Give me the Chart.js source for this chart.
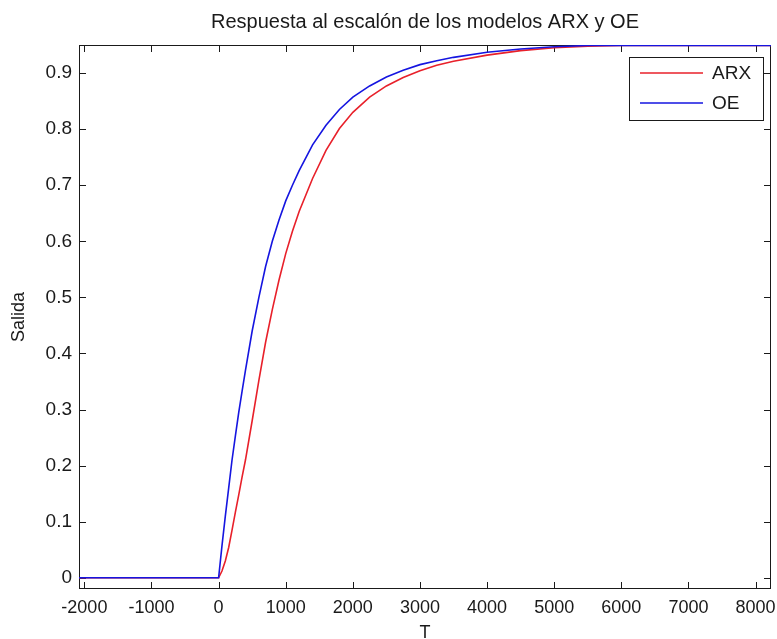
<!DOCTYPE html>
<html>
<head>
<meta charset="utf-8">
<title>Respuesta al escalón</title>
<script src="https://cdn.jsdelivr.net/npm/chart.js@4/dist/chart.umd.min.js"></script>
<style>
    html, body { margin: 0; padding: 0; background: #fff; }
    #wrap { width: 777px; height: 639px; }
</style>
</head>
<body>
<div id="wrap"><canvas id="grafica" width="777" height="639"></canvas></div>
<script>
// Datos (T y salida de cada modelo)
const tiempo = [-2080, 0, 50, 100, 150, 200, 250, 300, 350, 400, 500, 600, 700, 800, 900, 1000, 1100, 1200, 1400, 1600, 1800, 2000, 2250, 2500, 2750, 3000, 3250, 3500, 4000, 4500, 5000, 5500, 6000, 8230];
const salidaARX = [0, 0, 0.012, 0.03, 0.054, 0.085, 0.117, 0.148, 0.18, 0.21, 0.28, 0.352, 0.42, 0.478, 0.531, 0.578, 0.618, 0.653, 0.712, 0.762, 0.801, 0.83, 0.857, 0.877, 0.892, 0.904, 0.914, 0.921, 0.932, 0.94, 0.945, 0.948, 0.949, 0.949];
const salidaOE = [0, 0, 0.057, 0.11, 0.16, 0.21, 0.253, 0.295, 0.333, 0.37, 0.44, 0.50, 0.555, 0.60, 0.638, 0.672, 0.70, 0.726, 0.772, 0.807, 0.835, 0.857, 0.877, 0.893, 0.905, 0.915, 0.922, 0.928, 0.937, 0.943, 0.947, 0.949, 0.949, 0.949];
const xTicks = [-2000, -1000, 0, 1000, 2000, 3000, 4000, 5000, 6000, 7000, 8000];
const yTicks = [0, 0.1, 0.2, 0.3, 0.4, 0.5, 0.6, 0.7, 0.8, 0.9];

const FAMILIA = "'Liberation Sans', Arial, sans-serif";
const TINTA = '#1a1a1a';

const toPoints = (ys) => tiempo.map((t, i) => ({ x: t, y: ys[i] }));

// Marco con marcas hacia dentro, estilo MATLAB
const marco = {
    id: 'marco',
    beforeDatasetsDraw(chart) {
        const { ctx, chartArea: a, scales: { x, y } } = chart;
        ctx.save();
        ctx.strokeStyle = TINTA;
        ctx.lineWidth = 1;
        ctx.strokeRect(a.left + 0.5, a.top + 0.5, a.width - 1, a.height - 1);
        ctx.beginPath();
        xTicks.forEach(v => {
            const px = Math.round(x.getPixelForValue(v)) + 0.5;
            ctx.moveTo(px, a.bottom); ctx.lineTo(px, a.bottom - 7);
            ctx.moveTo(px, a.top); ctx.lineTo(px, a.top + 7);
        });
        yTicks.forEach(v => {
            const py = Math.round(y.getPixelForValue(v)) + 0.5;
            ctx.moveTo(a.left, py); ctx.lineTo(a.left + 7, py);
            ctx.moveTo(a.right, py); ctx.lineTo(a.right - 7, py);
        });
        ctx.stroke();
        ctx.restore();
    }
};

// Leyenda en la esquina superior derecha
const leyenda = {
    id: 'leyenda',
    afterDraw(chart) {
        const { ctx, chartArea: a } = chart;
        const w = 134, h = 63;
        const bx = a.right - 8 - w, by = a.top + 12;
        ctx.save();
        ctx.fillStyle = '#fff';
        ctx.fillRect(bx, by, w, h);
        ctx.strokeStyle = TINTA;
        ctx.lineWidth = 1;
        ctx.strokeRect(bx + 0.5, by + 0.5, w, h);
        ctx.font = `19px ${FAMILIA}`;
        ctx.textBaseline = 'middle';
        chart.data.datasets.forEach((ds, i) => {
            const ly = by + 16 + i * 30;
            ctx.strokeStyle = ds.borderColor;
            ctx.lineWidth = 1.6;
            ctx.beginPath();
            ctx.moveTo(bx + 11, ly); ctx.lineTo(bx + 74, ly);
            ctx.stroke();
            ctx.fillStyle = TINTA;
            ctx.fillText(ds.label, bx + 83, ly + 1);
        });
        ctx.restore();
    }
};

new Chart(document.getElementById('grafica'), {
    type: 'line',
    data: {
        datasets: [
            { label: 'ARX', data: toPoints(salidaARX), borderColor: '#e8202a', borderWidth: 1.6, pointRadius: 0, tension: 0, order: 1 },
            { label: 'OE', data: toPoints(salidaOE), borderColor: '#1515e0', borderWidth: 1.6, pointRadius: 0, tension: 0, order: 0 }
        ]
    },
    options: {
        responsive: false,
        animation: false,
        devicePixelRatio: 1,
        layout: { padding: { left: 0, right: 6, top: 0, bottom: 0 } },
        plugins: {
            legend: { display: false },
            tooltip: { enabled: false },
            title: {
                display: true,
                fullSize: false,
                text: 'Respuesta al escalón de los modelos ARX y OE',
                color: TINTA,
                font: { family: FAMILIA, size: 20, weight: 'normal' },
                padding: { top: 10, bottom: 11 }
            }
        },
        scales: {
            x: {
                type: 'linear',
                min: -2080,
                max: 8230,
                afterBuildTicks: s => { s.ticks = xTicks.map(v => ({ value: v })); },
                afterFit: s => { s.height = 50; s.paddingLeft = 0; s.paddingRight = 0; },
                grid: { display: false, drawTicks: false },
                border: { display: false },
                ticks: { color: TINTA, padding: 8, maxRotation: 0, autoSkip: false, font: { family: FAMILIA, size: 18 }, callback: v => String(v) },
                title: { display: true, text: 'T', color: TINTA, font: { family: FAMILIA, size: 18 }, padding: { top: 0, bottom: -5 } }
            },
            y: {
                min: -0.02,
                max: 0.95,
                afterBuildTicks: s => { s.ticks = yTicks.map(v => ({ value: v })); },
                afterFit: s => { s.width = 79; s.paddingTop = 0; s.paddingBottom = 0; },
                grid: { display: false, drawTicks: false },
                border: { display: false },
                ticks: { color: TINTA, padding: 7, autoSkip: false, font: { family: FAMILIA, size: 19 }, callback: v => String(v) },
                title: { display: true, text: 'Salida', color: TINTA, font: { family: FAMILIA, size: 18 }, padding: { top: 8, bottom: 0 } }
            }
        }
    },
    plugins: [marco, leyenda]
});
</script>
</body>
</html>
